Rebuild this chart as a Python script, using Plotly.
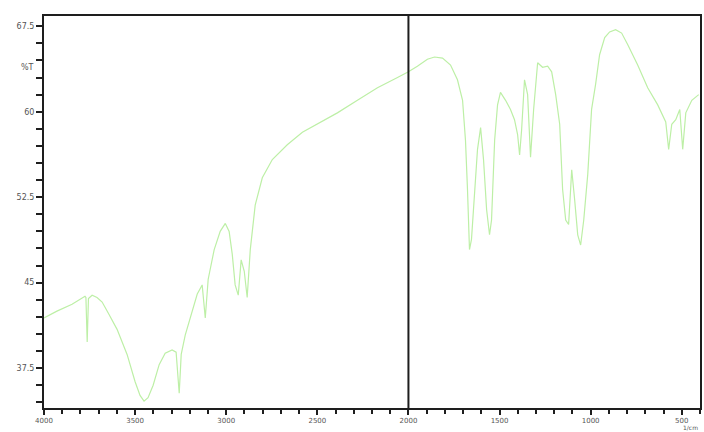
import plotly.graph_objects as go

# Wavenumber (cm-1) and transmittance (%T)
wavenumber = [4000, 3929, 3846, 3791, 3775, 3770, 3763, 3756, 3736, 3709, 3681, 3643,
              3599, 3544, 3500, 3473, 3451, 3429, 3401, 3368, 3335, 3297, 3275, 3258,
              3247, 3225, 3187, 3159, 3132, 3115, 3099, 3066, 3033, 3005, 2984, 2967,
              2951, 2934, 2918, 2901, 2885, 2868, 2841, 2802, 2747, 2665, 2582, 2500,
              2390, 2280, 2170, 2060, 2000,
              1951, 1896, 1857, 1813, 1769, 1731, 1703, 1687, 1676, 1665, 1654, 1637,
              1621, 1604, 1588, 1571, 1555, 1544, 1527, 1511, 1495, 1467, 1440, 1418,
              1401, 1390, 1379, 1363, 1346, 1330, 1313, 1291, 1264, 1236, 1214, 1192,
              1170, 1154, 1137, 1121, 1104, 1088, 1071, 1055, 1038, 1016, 995, 973,
              951, 923, 896, 863, 830, 797, 742, 687, 632, 588, 572, 555, 533, 511,
              495, 478, 445, 407]
transmittance = [41.9, 42.5, 43.1, 43.7, 43.8, 43.7, 39.8, 43.6, 43.9, 43.7, 43.3, 42.2,
                 40.9, 38.7, 36.3, 35.1, 34.6, 34.9, 36.0, 37.8, 38.8, 39.1, 38.9, 35.3,
                 38.7, 40.4, 42.6, 44.0, 44.8, 41.9, 45.3, 47.9, 49.5, 50.2, 49.5, 47.5,
                 44.8, 43.9, 47.0, 46.0, 43.7, 47.9, 51.8, 54.2, 55.8, 57.1, 58.2, 58.9,
                 59.9, 61.0, 62.1, 63.0, 63.5,
                 64.0, 64.6, 64.8, 64.7, 64.1, 62.8, 61.0, 57.5, 53.2, 47.9, 48.8, 53.2,
                 56.7, 58.6, 55.8, 51.4, 49.2, 50.5, 57.5, 60.6, 61.7, 61.0, 60.2, 59.3,
                 58.0, 56.2, 58.4, 62.8, 61.5, 56.0, 60.2, 64.3, 63.9, 64.0, 63.5, 61.5,
                 58.9, 53.2, 50.5, 50.1, 54.9, 52.3, 49.2, 48.3, 50.5, 54.5, 60.2, 62.4,
                 65.0, 66.5, 67.0, 67.2, 66.9, 65.9, 64.1, 62.1, 60.6, 59.1, 56.7, 58.9,
                 59.3, 60.2, 56.7, 59.9, 61.0, 61.5]

x_tick_vals = [4000, 3500, 3000, 2500, 2000, 1500, 1000, 500]
x_tick_text = ["4000", "3500", "3000", "2500", "2000", "1500", "1000", "500"]
y_tick_vals = [37.5, 45, 52.5, 60, 67.5]
y_tick_text = ["37.5", "45", "52.5", "60", "67.5"]

fig = go.Figure()
fig.add_trace(go.Scatter(
    x=wavenumber, y=transmittance, mode="lines",
    line=dict(color="#bdefa6", width=1.2), showlegend=False,
))

fig.add_shape(type="line", xref="x", yref="paper", x0=2000, x1=2000, y0=0, y1=1,
              line=dict(color="#1e1e1e", width=2))

fig.add_annotation(x=0, xref="paper", xanchor="right", xshift=-8, y=63.9, yref="y",
                   text="%T", showarrow=False, font=dict(size=8, color="#555"))
fig.add_annotation(x=1, xref="paper", xanchor="right", y=0, yref="paper", yanchor="top",
                   yshift=-14, text="1/cm", showarrow=False, font=dict(size=6, color="#555"))

fig.update_layout(
    width=704, height=432,
    margin=dict(l=44, r=2, t=16, b=24),
    paper_bgcolor="white", plot_bgcolor="white",
    font=dict(family="DejaVu Sans", size=8, color="#555"),
    xaxis=dict(range=[4000, 400], tickmode="array", tickvals=x_tick_vals, ticktext=x_tick_text,
               tickfont=dict(size=7), showgrid=False, zeroline=False, showline=True,
               linecolor="#1e1e1e", linewidth=2,
               mirror=True, ticks="outside", ticklen=5, tickwidth=1.5, tickcolor="#1e1e1e",
               minor=dict(tickmode="linear", tick0=0, dtick=100, ticks="outside", ticklen=4,
                          tickwidth=1.5, tickcolor="#1e1e1e", showgrid=False)),
    yaxis=dict(range=[34, 68.4], tickmode="array", tickvals=y_tick_vals, ticktext=y_tick_text,
               showgrid=False, zeroline=False, showline=True, linecolor="#1e1e1e", linewidth=2,
               mirror=True, ticks="outside", ticklen=6, tickwidth=1.5, tickcolor="#1e1e1e",
               minor=dict(tickmode="linear", tick0=0, dtick=1.5, ticks="outside", ticklen=6,
                          tickwidth=1.5, tickcolor="#1e1e1e", showgrid=False)),
)

fig.write_html("out.html")
